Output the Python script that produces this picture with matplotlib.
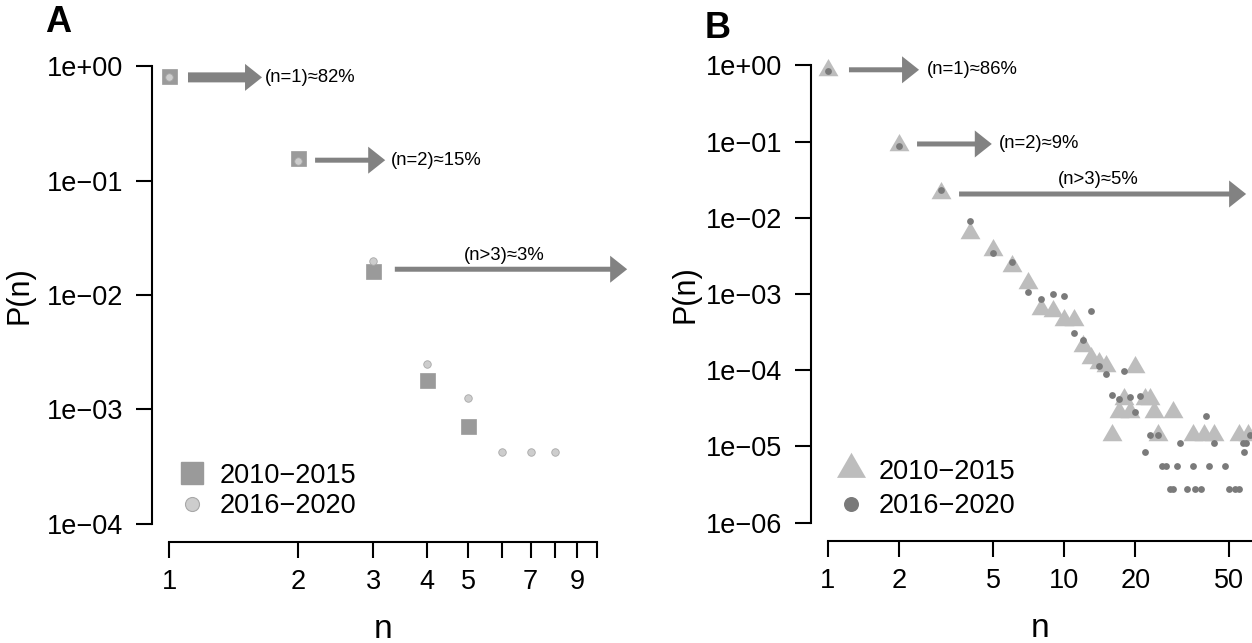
import matplotlib
matplotlib.use("Agg")
import matplotlib.pyplot as plt
from matplotlib.lines import Line2D

plt.rcParams['font.family'] = ['Liberation Sans', 'DejaVu Sans']

# ---------------- data ----------------
series_labels = ["2010\u22122015", "2016\u22122020"]

# Panel A
a_n_old = [1, 2, 3, 4, 5]
a_p_old = [0.82, 0.157, 0.0162, 0.00179, 0.00072]
a_n_new = [1, 2, 3, 4, 5, 6, 7, 8]
a_p_new = [0.80, 0.15, 0.020, 0.0025, 0.00125, 0.00042, 0.00042, 0.00042]

# Panel B
b_n_old = [1, 2, 3, 4, 5, 6, 7, 8, 9, 10, 11, 12, 13, 14, 15, 16, 17, 18,
           19, 20, 22, 23, 24, 25, 29, 35, 39, 43, 55, 60]
b_p_old = [0.86, 0.09, 0.021, 0.0063, 0.0038, 0.0023, 0.0014, 0.00063,
           0.00059, 0.00046, 0.00046, 0.00021, 0.000145, 0.000125, 0.000113,
           1.4e-5, 2.8e-5, 4.2e-5, 2.8e-5, 1.1e-4, 4.2e-5, 4.2e-5, 2.8e-5,
           1.4e-5, 2.8e-5, 1.4e-5, 1.4e-5, 1.4e-5, 1.4e-5, 1.4e-5]
b_n_new = [1, 2, 3, 4, 5, 6, 7, 8, 9, 10, 11, 12, 13, 14, 15, 16, 17, 18,
           19, 20, 21, 22, 23, 25, 26, 27, 28, 29, 30, 31, 33, 35, 36, 38,
           40, 41, 43, 48, 50, 53, 55, 57, 58, 59, 61]
b_p_new = [0.85, 0.088, 0.023, 0.0092, 0.0034, 0.0026, 0.00107, 0.00085,
           0.001, 0.00093, 0.00031, 0.00025, 0.0006, 0.000113, 0.000089,
           4.7e-5, 4.2e-5, 9.7e-5, 4.4e-5, 2.8e-5, 4.6e-5, 8.4e-6, 1.4e-5,
           1.4e-5, 5.6e-6, 5.6e-6, 2.8e-6, 2.8e-6, 5.6e-6, 1.1e-5, 2.8e-6,
           5.6e-6, 2.8e-6, 2.8e-6, 2.5e-5, 5.6e-6, 1.1e-5, 5.6e-6, 2.8e-6,
           2.8e-6, 2.8e-6, 1.1e-5, 8.4e-6, 1.1e-5, 1.4e-5]

# ticks
a_xticks = [1, 2, 3, 4, 5, 6, 7, 8, 9, 10]
a_xticklabels = ["1", "2", "3", "4", "5", "", "7", "", "9", ""]
a_yticks = [1e-4, 1e-3, 1e-2, 1e-1, 1]
b_xticks = [1, 2, 5, 10, 20, 50]
b_yticks = [1e-6, 1e-5, 1e-4, 1e-3, 1e-2, 1e-1, 1]

# annotation arrows: (x_start, x_end, y, tail width px, text, text x, text y, ha)
a_arrows = [
    (1.107, 1.649, 0.80, 10, "(n=1)\u224882%", 1.676, 0.80, "left"),
    (2.194, 3.20, 0.151, 5, "(n=2)\u224815%", 3.297, 0.151, "left"),
    (3.37, 11.77, 0.0168, 5, "(n>3)\u22483%", 6.06, 0.0223, "center"),
]
b_arrows = [
    (1.227, 2.43, 0.873, 5, "(n=1)\u224886%", 2.627, 0.873, "left"),
    (2.383, 4.94, 0.0929, 5, "(n=2)\u22489%", 5.30, 0.0929, "left"),
    (3.59, 59.0, 0.0205, 5, "(n>3)\u22485%", 13.9, 0.0316, "center"),
]

# ---------------- style ----------------
W, H = 1252, 643
PT = 72 / 100.0  # points per pixel at dpi 100
col_square = "#9a9a9a"
col_circ_a = "#cdcdcd"
col_circ_a_edge = "#a8a8a8"
col_tri = "#bdbdbd"
col_circ_b = "#7a7a7a"
col_arrow = "#828282"
tri_marker = [(-1, -0.577), (1, -0.577), (0, 1.155)]

fig = plt.figure(figsize=(W / 100, H / 100), dpi=100)
axA = fig.add_axes([152 / W, 1 - 542 / H, 462 / W, 494 / H])
axB = fig.add_axes([811 / W, 1 - 541 / H, 459 / W, 494 / H])


def fmt_e(v):
    import math
    e = int(round(math.log10(v)))
    sign = "+" if e >= 0 else "\u2212"
    return "1e%s%02d" % (sign, abs(e))


def style_axis(ax, xlim, ylim, xb, yb, xticks, xticklabels, yticks):
    ax.set_xscale("log")
    ax.set_yscale("log")
    ax.set_xlim(*xlim)
    ax.set_ylim(*ylim)
    for s in ("top", "right"):
        ax.spines[s].set_visible(False)
    ax.spines["left"].set_bounds(*yb)
    ax.spines["bottom"].set_bounds(*xb)
    for s in ("left", "bottom"):
        ax.spines[s].set_linewidth(1.5)
    ax.set_xticks(xticks)
    ax.set_xticklabels(xticklabels)
    ax.set_yticks(yticks)
    ax.set_yticklabels([fmt_e(v) for v in yticks])
    ax.minorticks_off()
    ax.tick_params(direction="out", length=11.5, width=1.5, labelsize=19.5,
                   colors="black")
    ax.tick_params(axis="y", pad=9)
    ax.tick_params(axis="x", pad=8)
    ax.patch.set_visible(False)


style_axis(axA, (10 ** -0.04, 10 ** 1.04), (10 ** -4.16, 10 ** 0.16),
           (1, 10), (1e-4, 1), a_xticks, a_xticklabels, a_yticks)
style_axis(axB, (10 ** -0.072, 10 ** 1.872), (10 ** -6.24, 10 ** 0.24),
           (1, 10 ** 1.872), (1e-6, 1), b_xticks,
           [str(v) for v in b_xticks], b_yticks)

# ---------------- marks ----------------
axA.plot(a_n_old, a_p_old, ls="none", marker="s", ms=15 * PT,
         mfc=col_square, mec=col_square, mew=0.5, clip_on=False)
axA.plot(a_n_new, a_p_new, ls="none", marker="o", ms=7.5 * PT,
         mfc=col_circ_a, mec=col_circ_a_edge, mew=0.6, clip_on=False)

axB.plot(b_n_old, b_p_old, ls="none", marker=tri_marker, ms=23 * PT,
         mfc=col_tri, mec="none", clip_on=True)
axB.plot(b_n_new, b_p_new, ls="none", marker="o", ms=6.8 * PT,
         mfc=col_circ_b, mec="none", clip_on=True)


def draw_arrows(ax, arrows):
    for x0, x1, y, tw, txt, tx, ty, ha in arrows:
        ax.annotate("", xy=(x1, y), xytext=(x0, y), xycoords="data",
                    annotation_clip=False,
                    arrowprops=dict(
                        arrowstyle="simple,head_length=%.2f,head_width=%.2f,tail_width=%.2f"
                        % (17 * PT, 27 * PT, tw * PT),
                        mutation_scale=1, shrinkA=0, shrinkB=0,
                        fc=col_arrow, ec="none"))
        ax.text(tx, ty, txt, ha=ha, va="center", fontsize=13.3, color="black",
                clip_on=False)


draw_arrows(axA, a_arrows)
draw_arrows(axB, b_arrows)

# ---------------- labels ----------------
for ax, lx in ((axA, -0.255), (axB, -0.240)):
    ax.set_ylabel("P(n)", fontsize=22)
    ax.yaxis.set_label_coords(lx, 0.5)
    ax.set_xlabel("n", fontsize=24)
    ax.xaxis.set_label_coords(0.5, -0.145)

fig.text(45 / W, 1 - 23 / H, "A", fontsize=26, fontweight="bold",
         ha="left", va="center")
fig.text(705 / W, 1 - 28 / H, "B", fontsize=26, fontweight="bold",
         ha="left", va="center")

# ---------------- legends ----------------
hA = [Line2D([], [], ls="none", marker="s", ms=21.7 * PT, mfc=col_square,
             mec=col_square),
      Line2D([], [], ls="none", marker="o", ms=14 * PT, mfc=col_circ_a,
             mec=col_circ_a_edge, mew=0.8)]
legA = axA.legend(hA, series_labels, loc="lower left",
                  bbox_to_anchor=(0.0567, 0.0466), frameon=False,
                  fontsize=19.5, handlelength=1.0, handletextpad=0.52,
                  borderpad=0, borderaxespad=0, labelspacing=0.15)

hB = [Line2D([], [], ls="none", marker=tri_marker, ms=33.5 * PT, mfc=col_tri,
             mec="none"),
      Line2D([], [], ls="none", marker="o", ms=15 * PT, mfc=col_circ_b,
             mec="none")]
legB = axB.legend(hB, series_labels, loc="lower left",
                  bbox_to_anchor=(0.057, 0.0445), frameon=False,
                  fontsize=19.5, handlelength=1.0, handletextpad=0.52,
                  borderpad=0, borderaxespad=0, labelspacing=0.3)

fig.savefig("out.png", dpi=100)
